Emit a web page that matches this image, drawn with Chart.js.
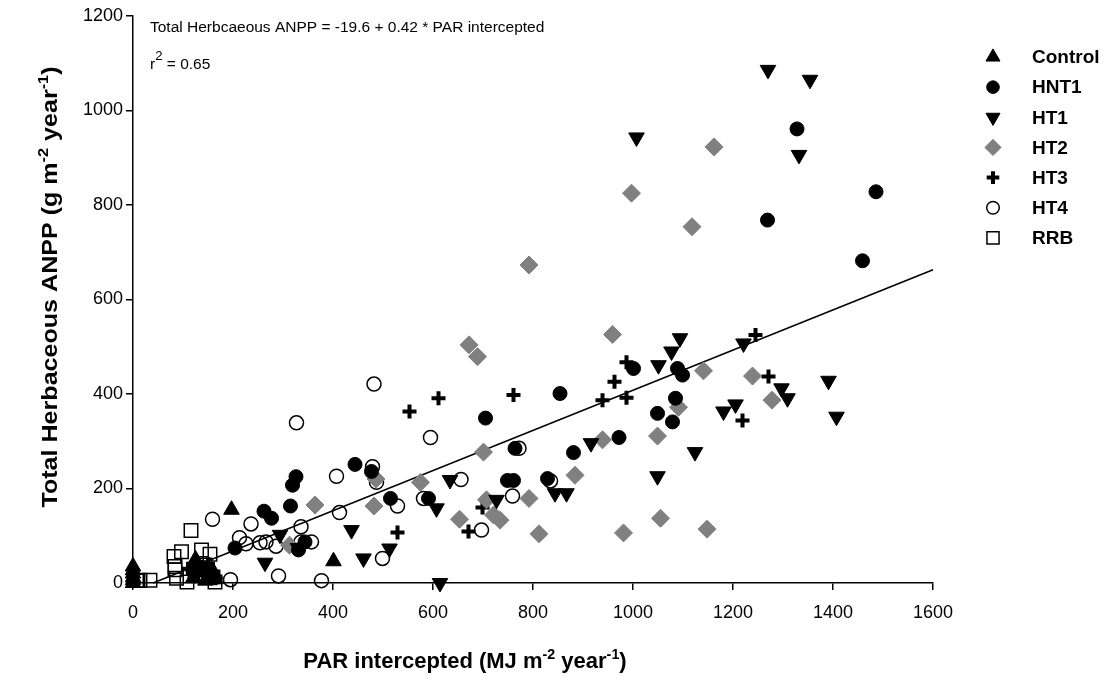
<!DOCTYPE html>
<html>
<head>
<meta charset="utf-8">
<script src="https://cdn.jsdelivr.net/npm/chart.js@4.4.1/dist/chart.umd.min.js"></script>
<style>
html,body{margin:0;padding:0;background:#fff;}
#wrap{width:1116px;height:689px;position:relative;}
</style>
</head>
<body>
<div id="wrap"><canvas id="c" width="1116" height="689"></canvas></div>
<script>
// ---------- data ----------
const xTicks = [0, 200, 400, 600, 800, 1000, 1200, 1400, 1600];
const yTicks = [0, 200, 400, 600, 800, 1000, 1200];
const seriesNames = ['Control', 'HNT1', 'HT1', 'HT2', 'HT3', 'HT4', 'RRB'];

const controlX = [0, 0, 0, 0, 0, 0, 125, 140, 150, 160, 165, 120, 145, 197, 401];
const controlY = [35, 27, 20, 12, 6, 0, 50, 30, 15, 25, 8, 10, 5, 155, 46];

const hnt1X = [1328, 1486, 1269, 1459, 1001, 1089, 1099, 1085, 1049, 1079, 972, 854, 705, 764, 881, 749, 761, 829, 591, 515, 444, 477, 326, 319, 315, 262, 277, 344, 331, 204, 130, 155, 120];
const hnt1Y = [961, 828, 768, 682, 454, 454, 440, 391, 359, 341, 308, 401, 349, 285, 276, 217, 217, 221, 179, 179, 251, 236, 225, 207, 163, 152, 137, 87, 70, 74, 35, 20, 25];

const ht1X = [1270, 1354, 1007, 1332, 1094, 1077, 1221, 1051, 1297, 1309, 1391, 1407, 1181, 1205, 916, 1124, 1049, 844, 867, 727, 634, 607, 437, 513, 461, 614, 294, 264, 330, 145];
const ht1Y = [1086, 1065, 943, 906, 518, 490, 507, 461, 412, 391, 428, 352, 363, 378, 296, 277, 226, 190, 190, 176, 218, 158, 112, 73, 52, 0, 102, 43, 74, 15];

const ht2X = [1162, 997, 1118, 792, 959, 672, 689, 1141, 1239, 1278, 1091, 939, 1049, 701, 884, 792, 707, 721, 734, 653, 812, 1055, 981, 1148, 575, 486, 482, 364, 313];
const ht2Y = [923, 825, 754, 673, 526, 504, 479, 449, 438, 387, 372, 303, 311, 277, 228, 179, 176, 144, 133, 135, 104, 137, 106, 114, 213, 220, 163, 165, 80];

const ht3X = [1245, 987, 963, 1271, 939, 987, 1219, 553, 611, 761, 699, 671, 529, 130, 150, 165, 110];
const ht3Y = [525, 467, 426, 437, 387, 392, 344, 363, 391, 398, 160, 109, 107, 20, 40, 10, 30];

const ht4X = [482, 327, 595, 772, 835, 656, 479, 487, 407, 529, 581, 413, 759, 697, 499, 377, 357, 336, 336, 159, 236, 213, 226, 254, 266, 286, 291, 195];
const ht4Y = [421, 339, 308, 285, 216, 219, 246, 213, 226, 163, 179, 149, 184, 112, 52, 5, 87, 87, 119, 135, 125, 96, 83, 85, 87, 78, 15, 7];

const rrbX = [116, 97, 137, 154, 82, 84, 84, 14, 34, 87, 108, 134, 160, 164, 124, 144, 10];
const rrbY = [111, 66, 70, 61, 56, 35, 28, 6, 6, 10, 2, 28, 13, 2, 17, 38, 5];

// regression line end points as drawn in the picture
const fitX = [40, 1600];
const fitY = [0, 663];

const equationText = 'Total Herbcaeous ANPP = -19.6 + 0.42 * PAR intercepted';
const r2Text = ' = 0.65';

// ---------- styles ----------
const FONT = '"Liberation Sans", Arial, Helvetica, sans-serif';
const markerStyles = {
  Control: {pointStyle: 'triangle', radius: 9, rotation: 0,   fill: '#000', stroke: '#000', bw: 1},
  HNT1:    {pointStyle: 'circle',   radius: 7, rotation: 0,   fill: '#000', stroke: '#000', bw: 1},
  HT1:     {pointStyle: 'triangle', radius: 9, rotation: 180, fill: '#000', stroke: '#000', bw: 1},
  HT2:     {pointStyle: 'rectRot',  radius: 9, rotation: 0,   fill: '#808080', stroke: '#808080', bw: 1},
  HT3:     {pointStyle: 'cross',    radius: 7, rotation: 0,   fill: '#000', stroke: '#000', bw: 4},
  HT4:     {pointStyle: 'circle',   radius: 7, rotation: 0,   fill: 'rgba(255,255,255,0)', stroke: '#000', bw: 1.5},
  RRB:     {pointStyle: 'rect',     radius: 9.5, rotation: 0, fill: 'rgba(255,255,255,0)', stroke: '#000', bw: 1.5}
};

const seriesX = [controlX, hnt1X, ht1X, ht2X, ht3X, ht4X, rrbX];
const seriesY = [controlY, hnt1Y, ht1Y, ht2Y, ht3Y, ht4Y, rrbY];
const toPts = (xs, ys) => xs.map((x, i) => ({x: x, y: ys[i]}));

const datasets = seriesNames.map((name, i) => {
  const s = markerStyles[name];
  return {
    type: 'scatter',
    label: name,
    data: toPts(seriesX[i], seriesY[i]),
    pointStyle: s.pointStyle,
    pointRadius: s.radius,
    pointHoverRadius: s.radius,
    pointRotation: s.rotation,
    pointBackgroundColor: s.fill,
    pointBorderColor: s.stroke,
    pointBorderWidth: s.bw,
    backgroundColor: s.fill,
    borderColor: s.stroke,
    clip: false
  };
});
datasets.push({
  type: 'line',
  label: 'fit',
  data: toPts(fitX, fitY),
  borderColor: '#000',
  borderWidth: 1.5,
  pointRadius: 0,
  fill: false,
  tension: 0,
  clip: false
});

// ---------- helpers ----------
function drawRich(ctx, segs, x, y, size, weight, align, supScale, supRaise) {
  const parts = segs.map(s => {
    const fs = s.sup ? size * supScale : size;
    ctx.font = weight + ' ' + fs + 'px ' + FONT;
    return {t: s.t, fs: fs, w: ctx.measureText(s.t).width, sup: !!s.sup};
  });
  const total = parts.reduce((a, p) => a + p.w, 0);
  let cx = align === 'center' ? x - total / 2 : x;
  ctx.textAlign = 'left';
  ctx.textBaseline = 'alphabetic';
  parts.forEach(p => {
    ctx.font = weight + ' ' + p.fs + 'px ' + FONT;
    ctx.fillText(p.t, cx, p.sup ? y - size * supRaise : y);
    cx += p.w;
  });
}

function drawMarker(ctx, st, x, y, scale) {
  ctx.save();
  ctx.fillStyle = st.fill;
  ctx.strokeStyle = st.stroke;
  ctx.lineWidth = st.bw;
  if (Chart.helpers && Chart.helpers.drawPoint) {
    Chart.helpers.drawPoint(ctx, {pointStyle: st.pointStyle, radius: st.radius * scale, rotation: st.rotation, borderWidth: st.bw}, x, y);
  }
  ctx.restore();
}

const decorations = {
  id: 'decorations',
  afterDraw(chart) {
    const ctx = chart.ctx;
    ctx.save();
    ctx.fillStyle = '#000';
    // equation annotation
    ctx.font = '15.5px ' + FONT;
    ctx.textAlign = 'left';
    ctx.textBaseline = 'alphabetic';
    ctx.fillText(equationText, 150, 32);
    drawRich(ctx, [{t: 'r'}, {t: '2', sup: true}, {t: r2Text}], 150, 69, 15.5, 'normal', 'left', 0.85, 0.55);

    // x title
    drawRich(ctx, [{t: 'PAR intercepted (MJ m'}, {t: '-2', sup: true}, {t: ' year'}, {t: '-1', sup: true}, {t: ')'}],
      465, 668, 22, 'bold', 'center', 0.65, 0.42);

    // y title
    ctx.save();
    ctx.translate(57, 287);
    ctx.rotate(-Math.PI / 2);
    ctx.scale(1.14, 1);
    drawRich(ctx, [{t: 'Total Herbaceous ANPP (g m'}, {t: '-2', sup: true}, {t: ' year'}, {t: '-1', sup: true}, {t: ')'}],
      0, 0, 22, 'bold', 'center', 0.65, 0.42);
    ctx.restore();

    // legend
    const lx = 993, tx = 1032, ly0 = 57, step = 30.15;
    seriesNames.forEach((name, i) => {
      const y = ly0 + i * step;
      drawMarker(ctx, markerStyles[name], lx, y, 0.9);
      ctx.fillStyle = '#000';
      ctx.font = 'bold 19px ' + FONT;
      ctx.textAlign = 'left';
      ctx.textBaseline = 'middle';
      ctx.fillText(name, tx, y + 1);
    });
    ctx.restore();
  }
};

const axisCommon = {
  type: 'linear',
  grid: {display: true, drawOnChartArea: false, drawTicks: true, tickLength: 7, color: '#000', lineWidth: 1.5},
  border: {display: true, color: '#000', width: 1.5},
  title: {display: false}
};

new Chart(document.getElementById('c'), {
  data: {datasets: datasets},
  options: {
    responsive: false,
    devicePixelRatio: 1,
    animation: false,
    events: [],
    layout: {padding: {left: 0, right: 183, top: 16, bottom: 0}},
    plugins: {legend: {display: false}, tooltip: {enabled: false}},
    scales: {
      x: Object.assign({}, axisCommon, {
        position: 'bottom',
        min: 0, max: 1600,
        ticks: {color: '#000', font: {family: FONT, size: 18}, padding: 12, maxRotation: 0, autoSkip: false,
                callback: v => String(v)},
        afterBuildTicks: s => { s.ticks = xTicks.map(v => ({value: v})); },
        afterFit: s => { s.height = 106; }
      }),
      y: Object.assign({}, axisCommon, {
        position: 'left',
        min: 0, max: 1200,
        ticks: {color: '#000', font: {family: FONT, size: 18}, padding: 3, autoSkip: false,
                callback: v => String(v)},
        afterBuildTicks: s => { s.ticks = yTicks.map(v => ({value: v})); },
        afterFit: s => { s.width = 133; }
      })
    }
  },
  plugins: [decorations]
});
</script>
</body>
</html>
